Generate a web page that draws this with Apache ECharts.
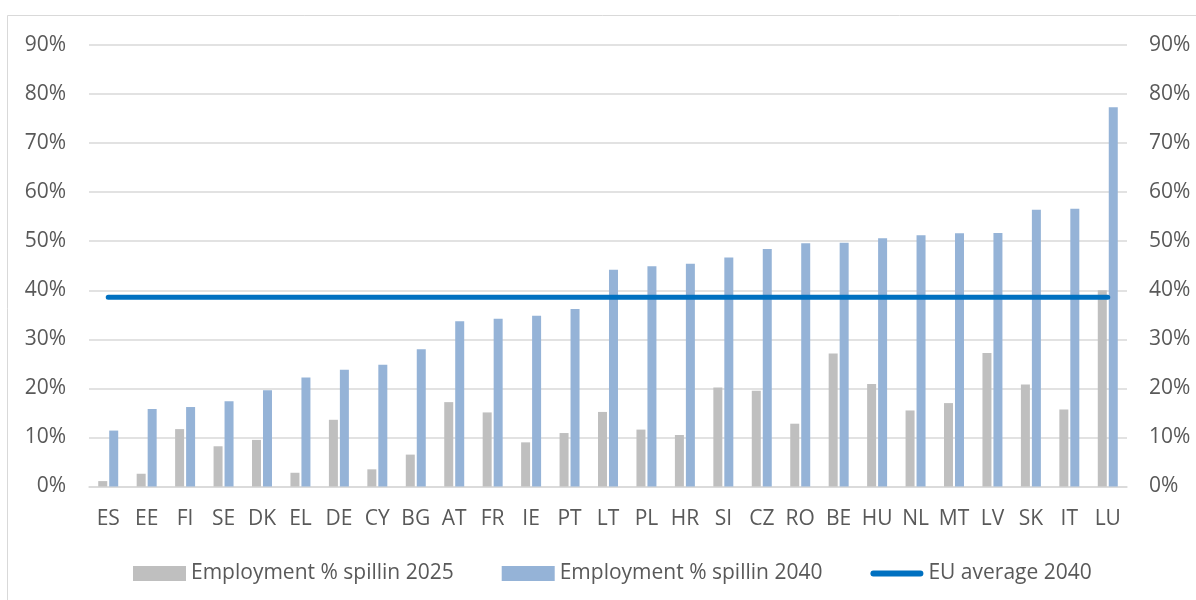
<!DOCTYPE html>
<html>
<head>
<meta charset="utf-8">
<script src="https://cdn.jsdelivr.net/npm/echarts@6/dist/echarts.min.js"></script>
<style>
html,body{margin:0;padding:0;background:#fff;}
#chart{width:1196px;height:600px;}
</style>
</head>
<body>
<div id="chart"></div>
<script>
const categories = ['ES','EE','FI','SE','DK','EL','DE','CY','BG','AT','FR','IE','PT','LT','PL','HR','SI','CZ','RO','BE','HU','NL','MT','LV','SK','IT','LU'];
const spill2025 = [1.1,2.6,11.7,8.2,9.5,2.8,13.6,3.5,6.5,17.2,15.1,9.0,10.9,15.2,11.6,10.5,20.2,19.5,12.8,27.1,20.9,15.5,17.0,27.2,20.8,15.7,40.0];
const spill2040 = [11.4,15.8,16.2,17.4,19.6,22.2,23.8,24.8,28.0,33.7,34.2,34.8,36.2,44.2,44.9,45.4,46.7,48.4,49.6,49.7,50.6,51.2,51.6,51.7,56.4,56.6,77.3];
const euAverage2040 = 38.6;
const yTicks = {min: 0, max: 90, interval: 10};
const seriesNames = ['Employment % spillin 2025', 'Employment % spillin 2040', 'EU average 2040'];

const FONT = '"Open Sans", sans-serif';
const TXT = '#595959';
const chart = echarts.init(document.getElementById('chart'));
const yAxisBase = {
  type: 'value', min: yTicks.min, max: yTicks.max, interval: yTicks.interval,
  axisLine: {show: false}, axisTick: {show: false},
  axisLabel: {formatter: '{value}%', color: TXT, fontSize: 21, fontFamily: FONT}
};
const lineIcon = 'path://M3,0 L51,0 A3,3 0 0 1 51,6 L3,6 A3,3 0 0 1 3,0 Z';
chart.setOption({
  animation: false,
  backgroundColor: '#fff',
  textStyle: {fontFamily: FONT},
  graphic: [{
    type: 'rect', silent: true, z: -10,
    shape: {x: 7.5, y: 15.5, width: 1300, height: 700},
    style: {fill: 'none', stroke: '#d9d9d9', lineWidth: 1}
  }],
  grid: {left: 89, right: 69, top: 45, bottom: 113.5, containLabel: false},
  legend: {
    left: 128, top: 558,
    itemWidth: 53, itemHeight: 15, itemGap: 48,
    symbolKeepAspect: true,
    textStyle: {color: TXT, fontSize: 21, fontFamily: FONT},
    data: [
      {name: seriesNames[0], icon: 'rect'},
      {name: seriesNames[1], icon: 'rect'},
      {name: seriesNames[2], icon: lineIcon, itemStyle: {color: '#0070c0'}}
    ]
  },
  xAxis: {
    type: 'category', data: categories,
    axisLine: {lineStyle: {color: '#d9d9d9', width: 1.5}},
    axisTick: {show: false},
    axisLabel: {color: TXT, fontSize: 21, fontFamily: FONT, margin: 22, interval: 0}
  },
  yAxis: [
    Object.assign({}, yAxisBase, {position: 'left',
      axisLabel: Object.assign({}, yAxisBase.axisLabel, {margin: 23}),
      splitLine: {lineStyle: {color: '#d9d9d9', width: 1.5}}}),
    Object.assign({}, yAxisBase, {position: 'right',
      axisLabel: Object.assign({}, yAxisBase.axisLabel, {margin: 22}),
      splitLine: {show: false}})
  ],
  series: [
    {name: seriesNames[0], type: 'bar', data: spill2025, barWidth: 9, barGap: '22%',
     itemStyle: {color: '#bfbfbf'}},
    {name: seriesNames[1], type: 'bar', data: spill2040, barWidth: 9,
     itemStyle: {color: '#95b3d7'}},
    {name: seriesNames[2], type: 'line', data: categories.map(() => euAverage2040),
     symbol: 'none', showSymbol: false, z: 5,
     lineStyle: {color: '#0070c0', width: 5, cap: 'round'},
     itemStyle: {color: '#0070c0'}}
  ]
});
</script>
</body>
</html>
